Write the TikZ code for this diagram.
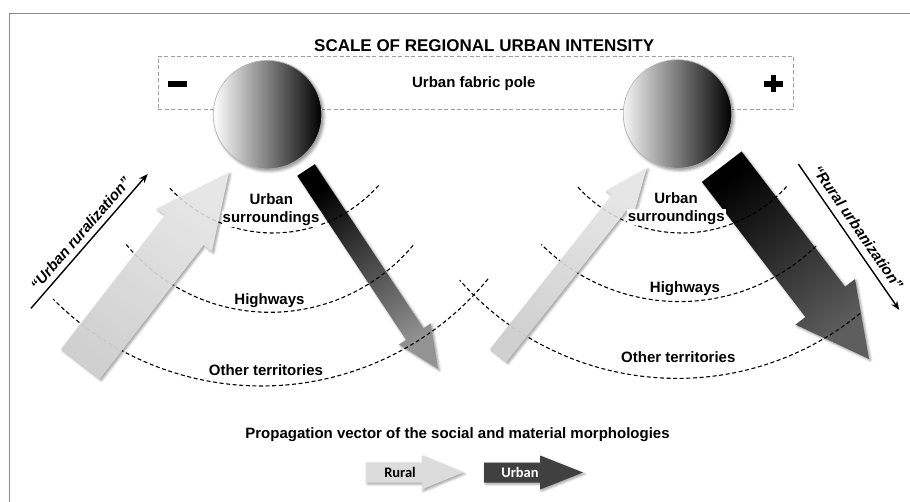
\documentclass[tikz,border=0pt]{standalone}
\usepackage{fontspec}
\setmainfont{Liberation Sans}
\newfontfamily\keyfont{Carlito}
\usetikzlibrary{calc,arrows.meta,shadows.blur}

\definecolor{frameGray}{HTML}{8C8C8C}
\definecolor{boxGray}{HTML}{A0A0A0}
\definecolor{lightTail}{HTML}{D0D0D0}
\definecolor{lightTip}{HTML}{E6E6E6}
\definecolor{darkTipL}{HTML}{939393}
\definecolor{darkTipR}{HTML}{5E5E5E}
\definecolor{poleMidL}{HTML}{C6C6C6}
\definecolor{poleMidR}{HTML}{7A7A7A}
\definecolor{keyLight}{HTML}{DCDCDC}
\definecolor{keyDark}{HTML}{404040}

% outline of a straight block arrow: tail, head base, tip, half shaft, half head
\newcommand{\arrowPath}[5]{($(#1)!#4!90:(#3)$) -- ($(#2)!#4!90:(#3)$) -- ($(#2)!#5!90:(#3)$) -- (#3) -- ($(#2)!#5!-90:(#3)$) -- ($(#2)!#4!-90:(#3)$) -- ($(#1)!#4!-90:(#3)$) -- cycle}

% the six zone boundaries around the two poles
\newcommand{\zoneArcs}[1]{%
  \draw[#1] (273,92) ++(41.5:141) arc[start angle=41.5, end angle=137.9, radius=141];
  \draw[#1] (270,126) ++(39.8:186.3) arc[start angle=39.8, end angle=140.7, radius=186.3];
  \draw[#1] (261.5,92.8) ++(39.4:293.2) arc[start angle=39.4, end angle=135.3, radius=293.2];
  \draw[#1] (682,92) ++(42.1:141) arc[start angle=42.1, end angle=138.5, radius=141];
  \draw[#1] (679.5,106) ++(45.7:195.6) arc[start angle=45.7, end angle=134.9, radius=195.6];
  \draw[#1] (677.2,88.4) ++(50.9:290) arc[start angle=50.9, end angle=138.6, radius=290];
}

\begin{document}
\begin{tikzpicture}[x=1pt,y=-1pt,
  zone/.style={dash pattern=on 4pt off 2.6pt, line width=1.1pt, draw=black},
  frameline/.style={draw=frameGray, line width=1.3pt},
  poleframe/.style={draw=boxGray, line width=0.9pt, dash pattern=on 4pt off 2.5pt, inner sep=0pt},
  txt/.style={font=\fontsize{15}{18}\selectfont\bfseries, inner sep=0pt, anchor=base},
  sidetxt/.style={font=\fontsize{15}{18}\selectfont\bfseries\itshape, inner sep=0pt},
  sidearrow/.style={line width=1.4pt, -{Stealth[length=9pt,width=7pt]}},
  softshadow/.style={blur shadow={shadow xshift=1.5pt, shadow yshift=-1.5pt, shadow blur radius=2.5pt, shadow opacity=40}},
  pole/.style={circle, minimum size=108.5pt, inner sep=0pt, draw=black!30, line width=0.6pt,
    blur shadow={shadow xshift=2pt, shadow yshift=-2pt, shadow blur radius=3pt, shadow opacity=45}},
  keytxt/.style={font=\keyfont\fontsize{14.5}{17}\selectfont\bfseries, inner sep=0pt, anchor=base}
]
\useasboundingbox (0,0) rectangle (910,502);

% page frame
\draw[frameline] (9.3,502) -- (9.3,13.3) -- (910,13.3);

% intensity scale
\node[poleframe, minimum width=635pt, minimum height=53pt] (poleBox) at (475.5,82.5) {};
\node[font=\fontsize{17}{20}\selectfont\bfseries, inner sep=0pt, anchor=base] (title) at (484.2,51.7) {SCALE OF REGIONAL URBAN INTENSITY};
\node[txt] (poleLabel) at (473.8,87.5) {Urban fabric pole};
\node[fill=black, minimum width=19pt, minimum height=6pt, inner sep=0pt] (minusSign) at (177.5,84) {};
\node[fill=black, minimum width=19pt, minimum height=5.8pt, inner sep=0pt] (plusH) at (773.5,83.7) {};
\node[fill=black, minimum width=5.8pt, minimum height=17pt, inner sep=0pt] (plusV) at (773.5,83.7) {};

% urban propagation vectors (below the zone boundaries)
\coordinate (luT) at (306,170);
\coordinate (luP) at (438,369);
\coordinate (luB) at ($(luP)!42pt!(luT)$);
\path[softshadow, shading=axis, top color=black, bottom color=darkTipL, shading angle=33.6]
  \arrowPath{luT}{luB}{luP}{10.5pt}{19pt};

\coordinate (ruT) at (721.7,166.7);
\coordinate (ruP) at (869,359);
\coordinate (ruB) at ($(ruP)!72pt!(ruT)$);
\path[softshadow, shading=axis, top color=black, middle color=black!93, bottom color=darkTipR, shading angle=37.5]
  \arrowPath{ruT}{ruB}{ruP}{25pt}{37.5pt};

% zone boundaries
\zoneArcs{zone}

% rural propagation vectors (over the zone boundaries)
\coordinate (lrT) at (80.5,364);
\coordinate (lrP) at (229,172.5);
\coordinate (lrB) at ($(lrP)!73pt!(lrT)$);
\path[softshadow, shading=axis, top color=lightTip, bottom color=lightTail, shading angle=-37.8]
  \arrowPath{lrT}{lrB}{lrP}{24.5pt}{35pt};
\begin{scope}
  \clip \arrowPath{lrT}{lrB}{lrP}{24.5pt}{35pt};
  \zoneArcs{zone, draw=black!22}
\end{scope}

\coordinate (rrT) at (498.3,355.5);
\coordinate (rrP) at (646.7,168);
\coordinate (rrB) at ($(rrP)!43pt!(rrT)$);
\path[softshadow, shading=axis, top color=lightTip, bottom color=lightTail, shading angle=-38.4]
  \arrowPath{rrT}{rrB}{rrP}{10.5pt}{18pt};
\begin{scope}
  \clip \arrowPath{rrT}{rrB}{rrP}{10.5pt}{18pt};
  \zoneArcs{zone, draw=black!22}
\end{scope}

% urban fabric poles
\node[pole, left color=white, middle color=poleMidL, right color=black] (poleL) at (267.5,114.7) {};
\node[pole, left color=white!96!black, middle color=poleMidR, right color=black] (poleR) at (677.5,114) {};

% zone names
\node[txt] (lUrban) at (271.3,205) {Urban};
\node[txt, fill=white, inner sep=1pt] (lSurr) at (271,223) {surroundings};
\node[txt] (lHigh) at (269.5,304.3) {Highways};
\node[txt] (lOther) at (266,375) {Other territories};
\node[txt] (rUrban) at (676,203.3) {Urban};
\node[txt, fill=white, inner sep=1pt] (rSurr) at (676.3,221.3) {surroundings};
\node[txt] (rHigh) at (685,292.7) {Highways};
\node[txt] (rOther) at (678.3,362.7) {Other territories};

% process directions
\coordinate (urA) at (31,308.3);
\coordinate (urB) at (147.7,174);
\draw[sidearrow] (urA) -- (urB);
\node[sidetxt, rotate=49] (urLabel) at (80.5,233.5) {“Urban ruralization”};

\coordinate (ruA) at (798.3,164);
\coordinate (ruZ) at (899.3,310);
\draw[sidearrow] (ruA) -- (ruZ);
\node[sidetxt, rotate=-55.3] (ruLabel) at (858,227.5) {“Rural urbanization”};

% key
\node[txt] (keyTitle) at (457.5,438) {Propagation vector of the social and material morphologies};
\path[softshadow, fill=keyLight] (366,462.5) -- (422,462.5) -- (422,455.5) -- (463,472.5) -- (422,489.5) -- (422,482.5) -- (366,482.5) -- cycle;
\node[keytxt] (ruralKey) at (400,477.3) {Rural};
\path[softshadow, fill=keyDark] (484,462.5) -- (540,462.5) -- (540,455.5) -- (583,472.5) -- (540,489.5) -- (540,482.5) -- (484,482.5) -- cycle;
\node[keytxt, text=white] (urbanKey) at (520,477.3) {Urban};
\end{tikzpicture}
\end{document}
